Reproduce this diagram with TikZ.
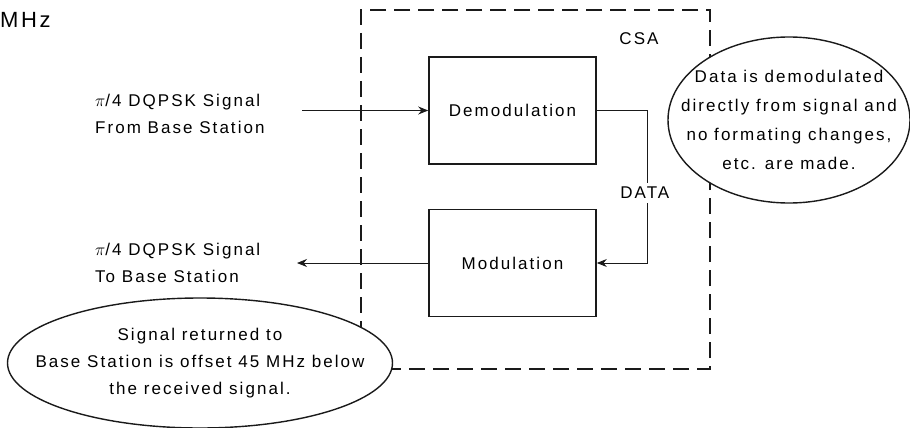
\documentclass[tikz,border=0pt]{standalone}
\usepackage{fontspec}
\usepackage{amsmath}
\usetikzlibrary{positioning,shapes.geometric,arrows.meta,calc}
\newfontfamily\diagfont[LetterSpace=12]{Liberation Sans}
\definecolor{lineclr}{HTML}{1A1A1A}
\tikzset{
  txt/.style     = {font=\diagfont\fontsize{17}{27}\selectfont, inner sep=0pt},
  unit/.style    = {draw=lineclr, line width=1.6pt, minimum width=167pt, minimum height=107pt, txt},
  frame/.style   = {draw=lineclr, line width=1.6pt, dash pattern=on 16pt off 8pt, minimum width=349pt, minimum height=359pt},
  note/.style    = {ellipse, draw=lineclr, line width=1.4pt, fill=white, inner sep=0pt},
  notetxt/.style = {txt, align=center},
  lbl/.style     = {txt, align=left, anchor=west},
  flow/.style    = {-{Stealth[length=10pt,width=8pt]}, line width=0.9pt, draw=lineclr},
}

\begin{document}
\begin{tikzpicture}[x=1pt, y=-1pt]
\useasboundingbox (0,0) rectangle (910,428);

%% title fragment
\node[txt, font=\diagfont\fontsize{22}{26}\selectfont, anchor=base west] (mhz) at (0,28) {MHz};

%% CSA frame and units
\node[frame] (csa) at (535.5,189.5) {};
\node[txt] (csalbl) at (639,39) {CSA};
\node[unit] (demod) at (512.5,110.5) {Demodulation};
\node[unit] (mod) at (512.5,263) {Modulation};

%% signal labels
\node[lbl] (inlbl) at (95,114) {$\pi$/4 DQPSK Signal\\From Base Station};
\node[lbl] (outlbl) at (95,263) {$\pi$/4 DQPSK Signal\\To Base Station};
\coordinate (insrc) at (302,110.5);
\coordinate (outdst) at (297,263);

%% flows
\draw[flow] (insrc) -- (demod.west);
\draw[flow] (mod.west) -- (outdst);
\draw[flow] (demod.east) -- ++(51,0) |- node[txt, pos=0.27, fill=white, inner sep=4pt, xshift=-3pt] {DATA} (mod.east);

%% notes
\node[note, minimum width=242pt, minimum height=166pt] (demnote) at (789,120) {};
\node[notetxt, font=\diagfont\fontsize{17}{29}\selectfont] (demtxt) at (demnote.center)
  {Data is demodulated\\directly from signal and\\no formating changes,\\etc. are made.};
\node[note, minimum width=385pt, minimum height=130pt] (retnote) at (200,363) {};
\node[notetxt] (rettxt) at (retnote.center)
  {Signal returned to\\Base Station is offset 45 MHz below\\the received signal.};

\end{tikzpicture}
\end{document}
